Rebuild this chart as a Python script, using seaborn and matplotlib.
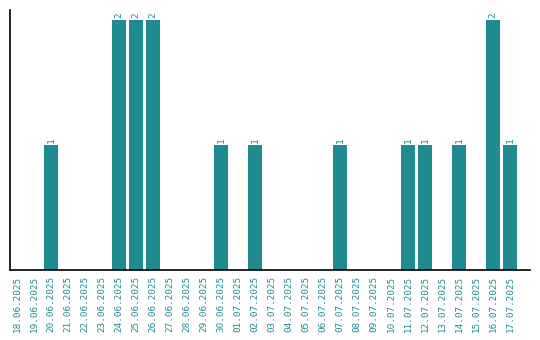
import matplotlib
matplotlib.use('Agg')
import matplotlib.pyplot as plt
import seaborn as sns
import pandas as pd
import numpy as np

# Tage und Anzahl pro Tag
dates = ['18.06.2025', '19.06.2025', '20.06.2025', '21.06.2025', '22.06.2025',
         '23.06.2025', '24.06.2025', '25.06.2025', '26.06.2025', '27.06.2025',
         '28.06.2025', '29.06.2025', '30.06.2025', '01.07.2025', '02.07.2025',
         '03.07.2025', '04.07.2025', '05.07.2025', '06.07.2025', '07.07.2025',
         '08.07.2025', '09.07.2025', '10.07.2025', '11.07.2025', '12.07.2025',
         '13.07.2025', '14.07.2025', '15.07.2025', '16.07.2025', '17.07.2025']
counts = [0, 0, 1, 0, 0, 0, 2, 2, 2, 0,
          0, 0, 1, 0, 1, 0, 0, 0, 0, 1,
          0, 0, 0, 1, 1, 0, 1, 0, 2, 1]

teal = '#1f8b90'

df = pd.DataFrame({'Datum': dates, 'Anzahl': counts})

sns.set_style('white')
plt.rcParams['font.family'] = ['DejaVu Sans Mono', 'DejaVu Sans']

fig = plt.figure(figsize=(5.4, 3.4), dpi=100)
ax = fig.add_axes([10 / 540, 70 / 340, 520 / 540, 260 / 340])
sns.barplot(data=df, x='Datum', y='Anzahl', color=teal, width=0.82,
            saturation=1, linewidth=0, ax=ax)

# Beschriftung nur für Balken > 0
for p, c in zip(ax.patches, counts):
    if c > 0:
        ax.text(p.get_x() + p.get_width() / 2, c + 0.02, str(c),
                rotation=90, ha='center', va='bottom', color=teal,
                fontsize=6.8)

ax.set_xlim(-0.41, 30.18)
ax.set_ylim(0, 2.08)
ax.set_yticks([])
ax.set_xlabel('')
ax.set_ylabel('')
ax.tick_params(axis='x', length=0, pad=4.5, labelsize=6.7, labelcolor=teal)
plt.setp(ax.get_xticklabels(), rotation=90)
sns.despine(ax=ax)
for s in ['left', 'bottom']:
    ax.spines[s].set_color('black')
    ax.spines[s].set_linewidth(1.2)

fig.savefig('out.png', dpi=100)
